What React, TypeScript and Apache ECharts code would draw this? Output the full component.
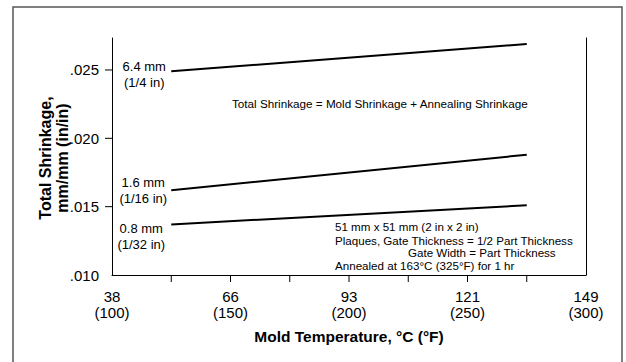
import React, { useEffect, useRef } from 'react';
import * as echarts from 'echarts';

// Mold temperature (°F) at the start and end of each curve
const tempF = [125, 275];
// Total shrinkage (mm/mm) for each part thickness
const shrink64 = [0.0249, 0.0269];
const shrink16 = [0.0162, 0.0188];
const shrink08 = [0.0137, 0.0151];
const seriesLabels = ['6.4 mm\n(1/4 in)', '1.6 mm\n(1/16 in)', '0.8 mm\n(1/32 in)'];

// Axis tick labels
const xLabelF = [100, 150, 200, 250, 300];
const xLabelC = ['38', '66', '93', '121', '149'];
const xTickMarks = [125, 150, 175, 200, 225, 250, 275];
const yTickMarks = [0.015, 0.02, 0.025];

const X_MIN = 100;
const X_MAX = 300;
const Y_MIN = 0.01;
const Y_MAX = 0.02734;

const FONT = '"Liberation Sans", Arial, Helvetica, sans-serif';

export default function App() {
  const ref = useRef<HTMLDivElement>(null);

  useEffect(() => {
    if (!ref.current) return;
    const chart = echarts.init(ref.current, undefined, { renderer: 'svg' });

    const lineSeries = (name: string, values: number[], offset: number[]) => ({
      type: 'line',
      name,
      data: tempF.map((t, i) => [t, values[i]]),
      symbol: 'none',
      lineStyle: { color: '#000', width: 2 },
      silent: true,
      z: 3,
      markPoint: {
        symbol: 'circle',
        symbolSize: 0,
        silent: true,
        itemStyle: { color: 'transparent' },
        label: {
          show: true,
          formatter: name,
          color: '#000',
          fontSize: 13,
          lineHeight: 16,
          fontFamily: FONT,
          align: 'center',
          verticalAlign: 'middle',
          offset,
        },
        data: [{ coord: [tempF[0], values[0]] }],
      },
    });

    const textStyleBase = { fill: '#000', fontFamily: FONT };

    chart.setOption({
      animation: false,
      backgroundColor: '#fff',
      grid: { left: 112, right: 40, top: 38, bottom: 87, containLabel: false },
      xAxis: {
        type: 'value',
        min: X_MIN,
        max: X_MAX,
        interval: 50,
        name: 'Mold Temperature, °C (°F)',
        nameLocation: 'middle',
        nameGap: 53,
        nameTextStyle: { fontSize: 15.5, fontWeight: 'bold', color: '#000', fontFamily: FONT },
        axisLine: { show: true, lineStyle: { color: '#000', width: 1 } },
        axisTick: { show: false },
        splitLine: { show: false },
        axisLabel: {
          color: '#000',
          fontSize: 15,
          lineHeight: 16,
          fontFamily: FONT,
          margin: 13,
          formatter: (v: number) => {
            const i = xLabelF.indexOf(v);
            return i >= 0 ? `${xLabelC[i]}\n(${v})` : '';
          },
        },
      },
      yAxis: [
        {
          type: 'value',
          min: Y_MIN,
          max: Y_MAX,
          interval: 0.005,
          axisLine: { show: true, lineStyle: { color: '#000', width: 1 } },
          axisTick: { show: false },
          splitLine: { show: false },
          axisLabel: {
            color: '#000',
            fontSize: 15,
            fontFamily: FONT,
            margin: 13,
            showMaxLabel: false,
            formatter: (v: number) => {
              const k = v * 200;
              if (Math.abs(k - Math.round(k)) > 1e-6) return '';
              return '.' + String(Math.round(v * 1000)).padStart(3, '0');
            },
          },
        },
        {
          type: 'value',
          position: 'right',
          min: Y_MIN,
          max: Y_MAX,
          axisLine: { show: true, lineStyle: { color: '#000', width: 1 } },
          axisTick: { show: false },
          axisLabel: { show: false },
          splitLine: { show: false },
        },
      ],
      series: [
        lineSeries(seriesLabels[0], shrink64, [-27, 3.5]),
        lineSeries(seriesLabels[1], shrink16, [-28, 0]),
        lineSeries(seriesLabels[2], shrink08, [-30, 12]),
        {
          type: 'custom',
          coordinateSystem: 'cartesian2d',
          silent: true,
          clip: false,
          z: 5,
          data: xTickMarks.map((v) => [v, Y_MIN]),
          renderItem: (_p: any, api: any) => {
            const p = api.coord([api.value(0), api.value(1)]);
            return {
              type: 'line',
              shape: { x1: p[0], y1: p[1], x2: p[0], y2: p[1] + 7 },
              style: { stroke: '#000', lineWidth: 1 },
            };
          },
        },
        {
          type: 'custom',
          coordinateSystem: 'cartesian2d',
          silent: true,
          clip: false,
          z: 5,
          data: yTickMarks.map((v) => [X_MIN, v]),
          renderItem: (_p: any, api: any) => {
            const p = api.coord([api.value(0), api.value(1)]);
            return {
              type: 'line',
              shape: { x1: p[0] - 7, y1: p[1], x2: p[0], y2: p[1] },
              style: { stroke: '#000', lineWidth: 1 },
            };
          },
        },
      ],
      graphic: [
        {
          type: 'rect',
          silent: true,
          shape: { x: 13, y: 7, width: 609, height: 380 },
          style: { fill: 'none', stroke: '#555', lineWidth: 1.5 },
        },
        {
          type: 'text',
          silent: true,
          x: 53.5,
          y: 158,
          rotation: Math.PI / 2,
          style: {
            ...textStyleBase,
            text: 'Total Shrinkage,\nmm/mm (in/in)',
            fontSize: 16,
            fontWeight: 'bold',
            lineHeight: 17,
            align: 'center',
            verticalAlign: 'middle',
          },
        },
        {
          type: 'text',
          silent: true,
          x: 232,
          y: 103,
          style: {
            ...textStyleBase,
            text: 'Total Shrinkage = Mold Shrinkage + Annealing Shrinkage',
            fontSize: 11.7,
            align: 'left',
            verticalAlign: 'middle',
          },
        },
        {
          type: 'text',
          silent: true,
          x: 335,
          y: 226.5,
          style: { ...textStyleBase, text: '51 mm x 51 mm (2 in x 2 in)', fontSize: 11.6, align: 'left', verticalAlign: 'middle' },
        },
        {
          type: 'text',
          silent: true,
          x: 335,
          y: 240,
          style: { ...textStyleBase, text: 'Plaques, Gate Thickness = 1/2 Part Thickness', fontSize: 11.6, align: 'left', verticalAlign: 'middle' },
        },
        {
          type: 'text',
          silent: true,
          x: 408,
          y: 252.5,
          style: { ...textStyleBase, text: 'Gate Width = Part Thickness', fontSize: 11.6, align: 'left', verticalAlign: 'middle' },
        },
        {
          type: 'text',
          silent: true,
          x: 335,
          y: 265.5,
          style: { ...textStyleBase, text: 'Annealed at 163°C (325°F) for 1 hr', fontSize: 11.6, align: 'left', verticalAlign: 'middle' },
        },
      ],
    });

    return () => chart.dispose();
  }, []);

  return (
    <div
      ref={ref}
      style={{ position: 'absolute', left: 0, top: 0, width: 626, height: 362 }}
    />
  );
}
